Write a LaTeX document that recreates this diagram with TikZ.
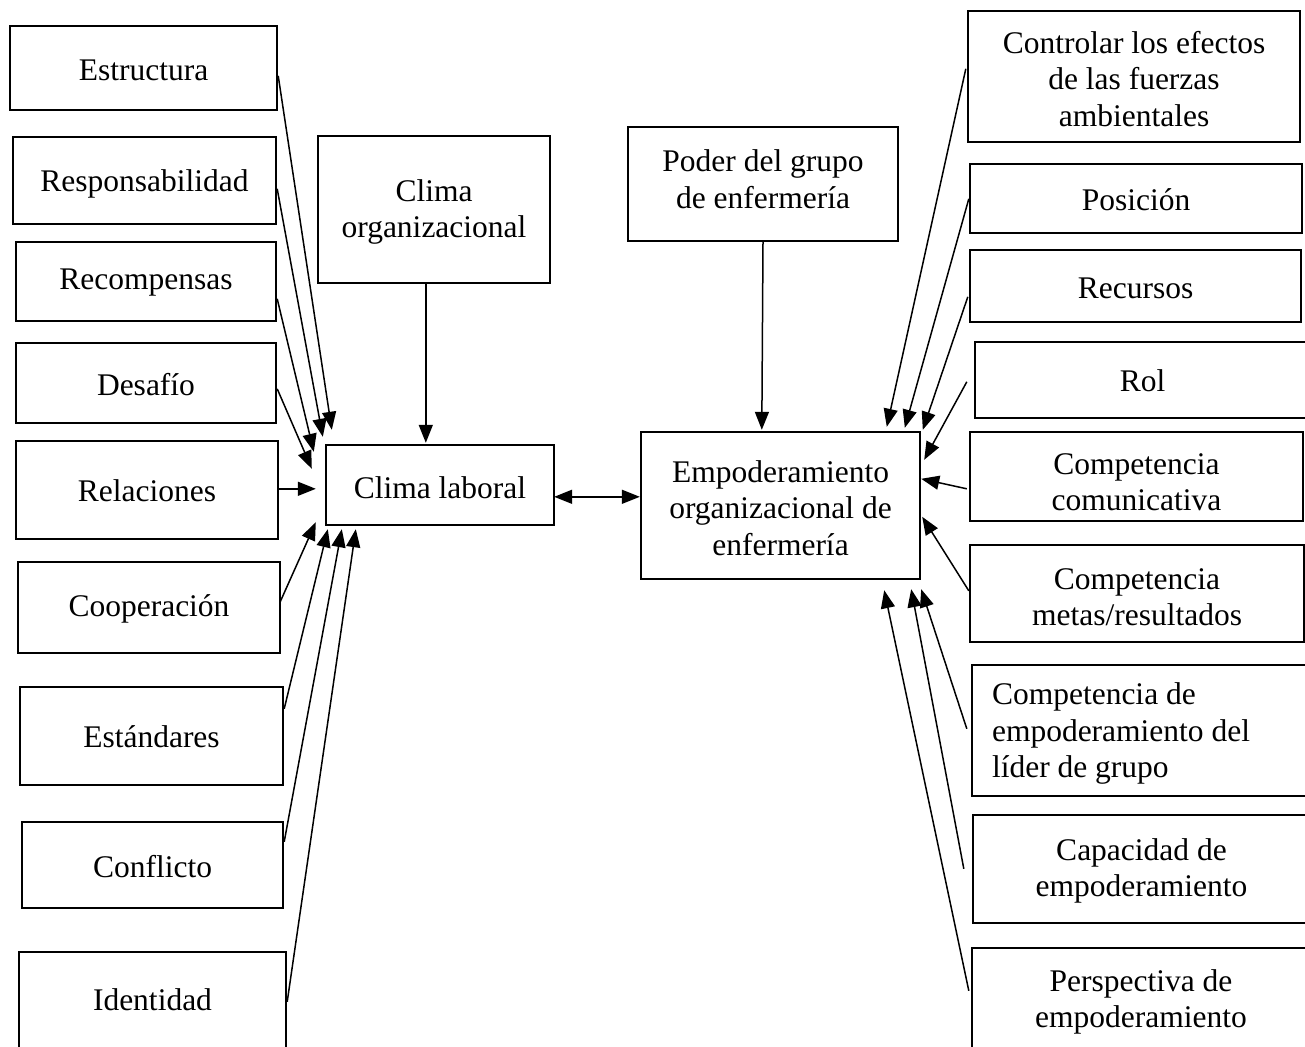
\documentclass[tikz,border=0pt]{standalone}
\usepackage{fontspec}
\setmainfont{Liberation Serif}
\usetikzlibrary{calc,arrows.meta}
\tikzset{
  bx/.style={draw=black, line width=2.4pt, rectangle, inner sep=0pt},
  lbl/.style={inner sep=0pt, align=center, font=\fontsize{31.5}{36.5}\selectfont},
  arr/.style={line width=1.5pt, -{Triangle[length=18pt,width=14pt]}},
  darr/.style={line width=1.5pt, {Triangle[length=18pt,width=14pt]}-{Triangle[length=18pt,width=14pt]}}
}
% \bx{name}{x1}{y1}{x2}{y2}{text centre y}{text}
\newcommand\bx[7]{\node[bx, minimum width={#4-#2}, minimum height={#5-#3},
   label={[lbl, yshift={((#3+#5)/2-#6)*1pt}]center:{#7}}] (#1) at ({(#2+#4)/2},{(#3+#5)/2}) {};}
\begin{document}
\begin{tikzpicture}[x=1pt,y=-1pt]
\useasboundingbox (0,0) rectangle (1305,1046);
% left column
\bx{estr}{10}{26}{277}{110}{70}{Estructura}
\bx{resp}{13}{137}{276}{224}{184}{Responsabilidad}
\bx{recomp}{16}{242}{276}{321}{283}{Recompensas}
\bx{desaf}{16}{343}{276}{423}{385}{Desafío}
\bx{relac}{16}{441}{278}{539}{491}{Relaciones}
\bx{coop}{18}{562}{280}{653}{609}{Cooperación}
\bx{estand}{20}{687}{283}{785}{737}{Estándares}
\bx{confl}{22}{822}{283}{908}{867}{Conflicto}
\bx{ident}{19}{952}{286}{1050}{1000}{Identidad}
% centre
\bx{corg}{318}{136}{550}{283}{212}{Clima\\organizacional}
\bx{clab}{326}{445}{554}{525}{488}{Clima laboral}
\bx{poder}{628}{127}{898}{241}{179}{Poder del grupo\\de enfermería}
\bx{emp}{641}{432}{920}{579}{508}{Empoderamiento\\organizacional de\\enfermería}
% right column
\bx{ctrl}{968}{11}{1300}{142}{79}{Controlar los efectos\\de las fuerzas\\ambientales}
\bx{pos}{970}{164}{1302}{233}{200}{Posición}
\bx{recur}{970}{250}{1301}{322}{288}{Recursos}
\bx{rol}{975}{342}{1310}{418}{381}{Rol}
\bx{ccom}{970}{432}{1303}{521}{482}{Competencia\\comunicativa}
\bx{cmet}{970}{545}{1304}{642}{597}{Competencia\\metas/resultados}
\node[bx, minimum width=338pt, minimum height=131pt,
  label={[lbl, align=left, anchor=west, xshift=21pt, yshift=-3pt]west:{Competencia de\\empoderamiento del\\líder de grupo}}]
  (clid) at (1141,730.5) {};
\bx{ccap}{973}{815}{1310}{923}{871}{Capacidad de\\empoderamiento}
\bx{cper}{972}{948}{1310}{1052}{1002}{Perspectiva de\\empoderamiento}
% left arrows
\draw[arr] ($(estr.north east)+(0,51)$) -- ($(clab.north west)+(7,-14)$);
\draw[arr] ($(resp.north east)+(0,53)$) -- ($(clab.north west)+(-2,-7)$);
\draw[arr] ($(recomp.north east)+(0,58)$) -- ($(clab.north west)+(-11,8)$);
\draw[arr] ($(desaf.north east)+(0,47)$) -- ($(clab.north west)+(-13,25)$);
\draw[arr] ($(relac.north east)+(0,49)$) -- ($(clab.north west)+(-9,45)$);
\draw[arr] ($(coop.north east)+(-1,41)$) -- ($(clab.south west)+(-9,-4)$);
\draw[arr] ($(estand.north east)+(0,23)$) -- ($(clab.south west)+(3,3)$);
\draw[arr] ($(confl.north east)+(0,21)$) -- ($(clab.south west)+(17,3)$);
\draw[arr] ($(ident.north east)+(0,51)$) -- ($(clab.south west)+(31,3)$);
% centre arrows
\draw[arr] ($(corg.south west)+(109,0)$) -- ($(clab.north west)+(101,-1)$);
\draw[darr] ($(clab.north east)+(-1,53)$) -- ($(emp.north west)+(0,66)$);
\draw[arr] (poder.south) -- ($(emp.north west)+(122,-1)$);
% right arrows
\draw[arr] ($(ctrl.north west)+(-1,59)$) -- ($(emp.north west)+(247,-4)$);
\draw[arr] ($(pos.north west)+(0,36)$) -- ($(emp.north west)+(265,-3)$);
\draw[arr] ($(recur.north west)+(-1,48)$) -- ($(emp.north west)+(283,-1)$);
\draw[arr] ($(rol.north west)+(-7,41)$) -- ($(emp.north east)+(3,29)$);
\draw[arr] ($(ccom.north west)+(-2,58)$) -- ($(emp.north east)+(0,48)$);
\draw[arr] ($(cmet.north west)+(0,47)$) -- ($(emp.north east)+(1,86)$);
\draw[arr] ($(clid.north west)+(-4,65)$) -- ($(emp.south east)+(0,9)$);
\draw[arr] ($(ccap.north west)+(-8,55)$) -- ($(emp.south east)+(-10,9)$);
\draw[arr] ($(cper.north west)+(-2,44)$) -- ($(emp.south east)+(-37,10)$);
\end{tikzpicture}
\end{document}
